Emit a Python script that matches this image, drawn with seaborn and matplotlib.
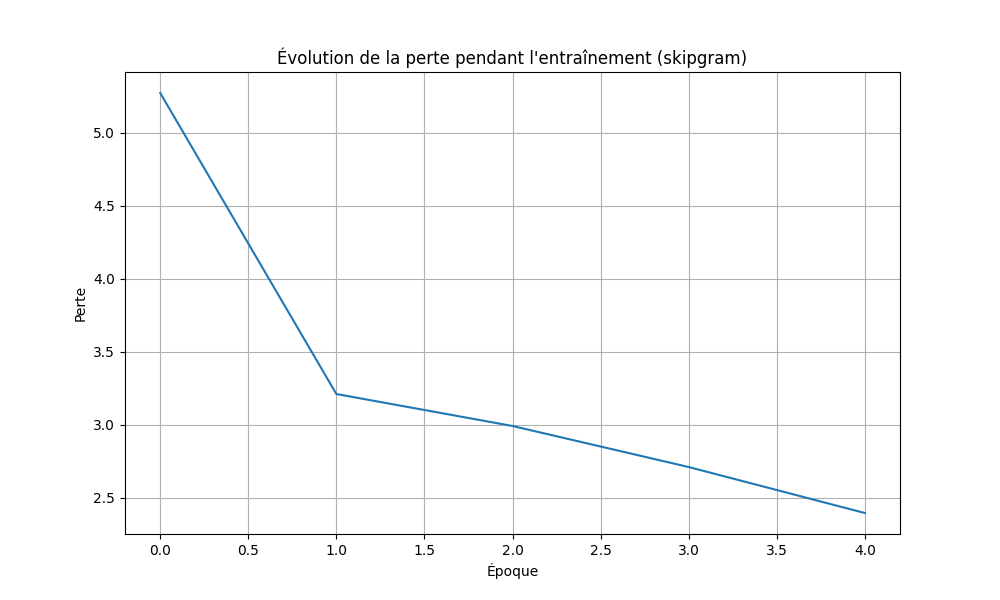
import matplotlib
matplotlib.use("Agg")
import matplotlib.pyplot as plt
import seaborn as sns

epochs = [0, 1, 2, 3, 4]
losses = [5.274, 3.212, 2.993, 2.712, 2.397]

fig, ax = plt.subplots(figsize=(10, 6), dpi=100)
sns.lineplot(x=epochs, y=losses, ax=ax, color="#1f77b4")
ax.set_title("Évolution de la perte pendant l'entraînement (skipgram)")
ax.set_xlabel("Époque")
ax.set_ylabel("Perte")
ax.grid(True)
fig.savefig("out.png")
